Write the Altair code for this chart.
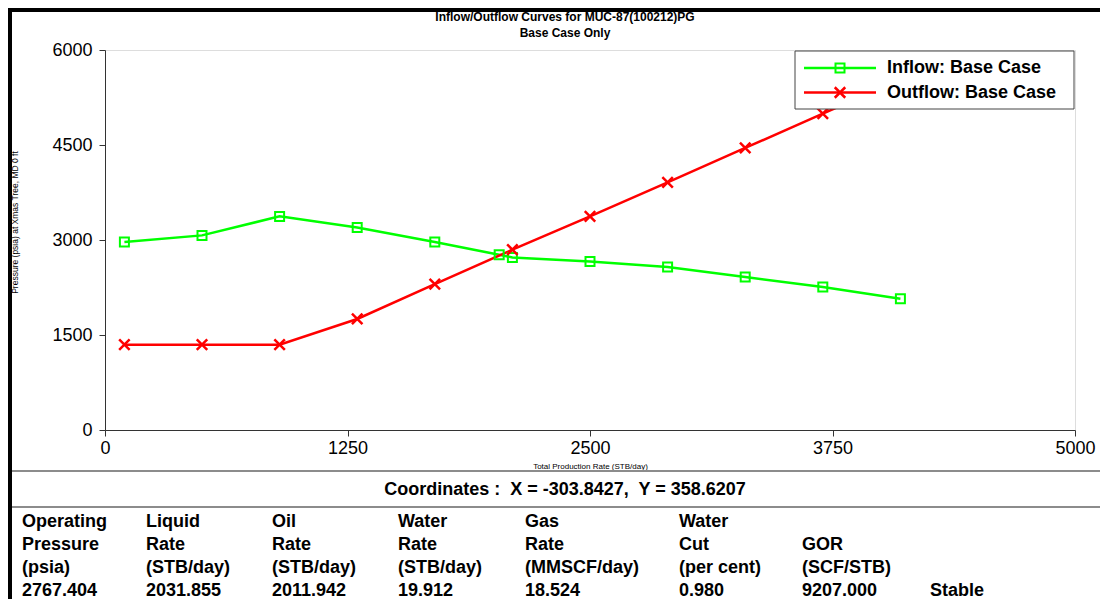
import altair as alt
import pandas as pd

# ---------------- data ----------------
inflow_rate = [100, 500, 900, 1300, 1700, 2031.855, 2100, 2500, 2900, 3300, 3700, 4100]
inflow_pressure = [2968, 3073, 3373, 3199, 2968, 2767.404, 2725, 2662, 2574, 2416, 2258, 2073]
outflow_rate = [100, 500, 900, 1300, 1700, 2100, 2500, 2900, 3300, 3700, 4100]
outflow_pressure = [1347, 1347, 1347, 1753, 2305, 2847, 3373, 3910, 4453, 4995, 5530]
series_names = ["Inflow: Base Case", "Outflow: Base Case"]
series_colors = ["#00FF00", "#FF0000"]
x_ticks = [0, 1250, 2500, 3750, 5000]
y_ticks = [0, 1500, 3000, 4500, 6000]
title_lines = ["Inflow/Outflow Curves for MUC-87(100212)PG", "Base Case Only"]
x_title = "Total Production Rate (STB/day)"
y_title = "Pressure (psia) at Xmas Tree, MD 0 ft"
coord_text = "Coordinates :\u00a0 X = -303.8427,\u00a0 Y = 358.6207"
table_headers = [
    ["Operating", "Pressure", "(psia)"],
    ["Liquid", "Rate", "(STB/day)"],
    ["Oil", "Rate", "(STB/day)"],
    ["Water", "Rate", "(STB/day)"],
    ["Gas", "Rate", "(MMSCF/day)"],
    ["Water", "Cut", "(per cent)"],
    ["", "GOR", "(SCF/STB)"],
    ["", "", ""],
]
table_values = ["2767.404", "2031.855", "2011.942", "19.912", "18.524", "0.980", "9207.000", "Stable"]

# ---------------- layout (pixels, relative to plot origin) ----------------
W, H = 970, 380
PAD = {"left": 97, "top": 42, "right": 25, "bottom": 169}
RIGHT = W + PAD["right"]
BOTTOM = H + PAD["bottom"]
FONT = "Liberation Sans"
col_x = [-83, 41, 167, 293, 420, 574, 697, 825]
row_y = [472, 495, 518, 541]

curves = pd.DataFrame({
    "rate": inflow_rate + outflow_rate,
    "pressure": inflow_pressure + outflow_pressure,
    "series": [series_names[0]] * len(inflow_rate) + [series_names[1]] * len(outflow_rate),
})

xs = alt.Scale(domain=[0, 5000], nice=False, zero=False)
ys = alt.Scale(domain=[0, 6000], nice=False)

x_axis = alt.Axis(values=x_ticks, grid=False, title=x_title, format="d",
                  labelFont=FONT, labelFontSize=18, labelColor="black", labelPadding=3,
                  labelFlush=False, labelOverlap=False,
                  tickSize=6, tickColor="#333", domainColor="#333",
                  titleFont=FONT, titleFontSize=8, titleFontWeight="normal", titleColor="black",
                  titleX=W / 2, titleY=36, titleAlign="center", titleBaseline="middle")
y_axis = alt.Axis(values=y_ticks, grid=False, title=y_title, format="d",
                  labelFont=FONT, labelFontSize=18, labelColor="black", labelPadding=7,
                  labelFlush=False, labelOverlap=False,
                  tickSize=6, tickColor="#333", domainColor="#333",
                  titleFont=FONT, titleFontSize=8.5, titleFontWeight="normal", titleColor="black",
                  titleX=-91, titleY=172, titleAngle=270, titleAlign="center", titleBaseline="middle")

color = alt.Color("series:N", scale=alt.Scale(domain=series_names, range=series_colors), legend=None)
X = alt.X("rate:Q", scale=xs, axis=x_axis)
Y = alt.Y("pressure:Q", scale=ys, axis=y_axis)

base = alt.Chart(curves)
lines = base.mark_line(strokeWidth=2.5).encode(x=X, y=Y, color=color)
square_pts = base.transform_filter(alt.datum.series == series_names[0]).mark_point(
    shape="square", size=81, filled=False, strokeWidth=2, opacity=1).encode(x=X, y=Y, color=color)
x_path = "M-1,-1L1,1M-1,1L1,-1"
cross_pts = base.transform_filter(alt.datum.series == series_names[1]).mark_point(
    shape=x_path, size=110, filled=False, strokeWidth=2.5, opacity=1).encode(x=X, y=Y, color=color)

one = pd.DataFrame({"k": [0]})


def rect(x1, x2, y1, y2, fill, stroke=None, sw=0):
    kw = dict(fill=fill)
    if stroke:
        kw.update(stroke=stroke, strokeWidth=sw)
    return alt.Chart(one).mark_rect(**kw).encode(
        x=alt.value(x1), x2=alt.value(x2), y=alt.value(y1), y2=alt.value(y2))


def hrule(x1, x2, y, c, sw):
    return alt.Chart(one).mark_rule(color=c, strokeWidth=sw).encode(
        x=alt.value(x1), x2=alt.value(x2), y=alt.value(y))


def label(x, y, s, size=18, weight="bold", align="left"):
    return alt.Chart(one).mark_text(font=FONT, fontSize=size, fontWeight=weight, align=align,
                                    baseline="middle", color="black").encode(
        x=alt.value(x), y=alt.value(y), text=alt.value(s))


# legend (drawn manually, top-right inside plot)
leg = [rect(690, 969, 1, 59, "white", "#444", 1)]
for i, (name, c) in enumerate(zip(series_names, series_colors)):
    yy = 18 + i * 24.5
    leg.append(hrule(699, 771, yy, c, 2.5))
    shp = "square" if i == 0 else x_path
    leg.append(alt.Chart(one).mark_point(shape=shp, size=(81 if i == 0 else 110), filled=False,
                                         strokeWidth=(2 if i == 0 else 2.5), color=c, opacity=1).encode(
        x=alt.value(735), y=alt.value(yy)))
    leg.append(label(782, yy, name))

# titles
titles = [label(460, -33 + 16 * i, t, size=12, align="center") for i, t in enumerate(title_lines)]

# frame and bottom panel
frame = [
    rect(-97, RIGHT, -42, -38, "black"),
    rect(-97, -93, -42, BOTTOM, "black"),
    hrule(-93, RIGHT, 421, "#8c8c8c", 2),
    hrule(-93, RIGHT, 457, "#8c8c8c", 2),
    label(460, 440, coord_text, align="center"),
]

table_rows = []
for ci, (hdr, val) in enumerate(zip(table_headers, table_values)):
    for ri, s in enumerate(hdr + [val]):
        if s:
            table_rows.append({"text": s, "col": ci, "row": ri})
table_df = pd.DataFrame(table_rows)
table_df["px"] = [col_x[c] for c in table_df["col"]]
table_df["py"] = [row_y[r] for r in table_df["row"]]
table = alt.Chart(table_df).mark_text(font=FONT, fontSize=18, fontWeight="bold", align="left",
                                       baseline="middle", color="black").encode(
    x=alt.X("px:Q", scale=None, axis=None),
    y=alt.Y("py:Q", scale=None, axis=None),
    text="text:N")

chart = alt.layer(lines, square_pts, cross_pts, *leg, *titles, *frame, table).properties(
    width=W, height=H,
    autosize=alt.AutoSizeParams(type="none"),
    padding=PAD,
).configure_view(strokeWidth=0).configure(background="white")

chart.save("out.html", embed_options={"renderer": "svg", "actions": False})
